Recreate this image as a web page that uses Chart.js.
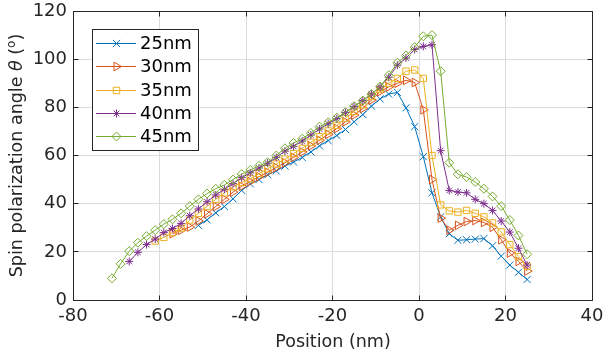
<!DOCTYPE html>
<html>
<head>
<meta charset="utf-8">
<script src="https://cdn.jsdelivr.net/npm/chart.js@4.4.0/dist/chart.umd.min.js"></script>
<style>
  html, body { margin: 0; padding: 0; background: #fff; }
</style>
</head>
<body>
<canvas id="myChart" width="606" height="354"></canvas>
<script>
// positions (nm) and spin polarization angle (deg) for each thickness
const pos25 = [-51, -49, -47, -45, -43, -41, -39, -37, -35, -33, -31, -29, -27, -25, -23, -21, -19, -17, -15, -13,
  -11, -9, -7, -5, -3, -1, 1, 3, 5, 7, 9, 11, 13, 15, 17, 19, 21, 23, 25];
const ang25 = [31, 33.3, 36.2, 38.8, 42, 45.5, 48.2, 50, 52, 53.6, 55.6, 57.3, 59.2, 61.5, 64, 66.2, 68.3, 70.8, 74, 77,
  80.5, 83.5, 85.5, 86.2, 79.8, 72, 59.5, 44.5, 34.5, 27.5, 24.8, 25, 25.3, 25.5, 22.5, 18.2, 14.5, 11.5, 8.5];

const pos30 = [-57, -55, -53, -51, -49, -47, -45, -43, -41, -39, -37, -35, -33, -31, -29, -27, -25, -23, -21, -19,
  -17, -15, -13, -11, -9, -7, -5, -3, -1, 1, 3, 5, 7, 9, 11, 13, 15, 17, 19, 21, 23, 25];
const ang30 = [27.5, 29, 30.3, 32.8, 35.8, 38.8, 41.8, 44.8, 47.2, 49.2, 51.2, 53, 55, 57, 59.2, 61.5, 64, 66.3, 68.8, 71.2,
  74, 76.8, 79.5, 83, 86.5, 88.5, 90, 91.2, 90.3, 79, 50, 34, 29, 31, 32.6, 33, 32.2, 30.2, 25, 19.5, 16, 12];

const pos35 = [-61, -59, -57, -55, -53, -51, -49, -47, -45, -43, -41, -39, -37, -35, -33, -31, -29, -27, -25, -23,
  -21, -19, -17, -15, -13, -11, -9, -7, -5, -3, -1, 1, 3, 5, 7, 9, 11, 13, 15, 17, 19, 21, 23, 25];
const ang35 = [24.5, 26, 28, 29.8, 33.2, 36, 38.8, 41.8, 44.5, 47, 48.8, 50.3, 52.5, 54.5, 56.5, 58.5, 60.8, 63, 65.5, 67.8,
  70.2, 72.5, 75.5, 78.3, 81, 84.5, 87.5, 90, 92, 95, 95.5, 92, 60, 39.5, 37, 36.5, 37.2, 36, 34.5, 32, 28.3, 23, 18, 14];

const pos40 = [-67, -65, -63, -61, -59, -57, -55, -53, -51, -49, -47, -45, -43, -41, -39, -37, -35, -33, -31, -29,
  -27, -25, -23, -21, -19, -17, -15, -13, -11, -9, -7, -5, -3, -1, 1, 3, 5, 7, 9, 11, 13, 15, 17, 19, 21, 23, 25];
const ang40 = [16, 19.8, 23, 25.3, 28, 29.7, 31.8, 35, 37.8, 40.8, 43.6, 46, 48.3, 50.8, 52.8, 54.8, 56.8, 59.2, 61.8, 63.8,
  66, 68.5, 71, 73.2, 75.3, 77.8, 80.3, 82.8, 85.5, 88.5, 92.5, 97.5, 100.5, 104, 105.3, 106, 62, 45.5, 44.8, 44.5,
  41.8, 40, 37.2, 32.8, 28.2, 21.5, 14.5];

const pos45 = [-71, -69, -67, -65, -63, -61, -59, -57, -55, -53, -51, -49, -47, -45, -43, -41, -39, -37, -35, -33,
  -31, -29, -27, -25, -23, -21, -19, -17, -15, -13, -11, -9, -7, -5, -3, -1, 1, 3, 5, 7, 9, 11, 13, 15, 17, 19, 21, 23, 25];
const ang45 = [9, 15, 20.3, 23.8, 26.5, 29, 31.5, 33.5, 36, 39, 41.8, 44.2, 46.2, 47.8, 50, 52.3, 54, 55.7, 57.2, 60,
  63, 65.2, 67, 69.3, 72, 73.8, 75.7, 78, 80.5, 82.8, 85.5, 88.6, 93.3, 98.5, 101.5, 105, 109.5, 110, 95, 57,
  52.2, 51, 49, 46.2, 43, 39, 33.2, 26.8, 19];

const xTicks = [-80, -60, -40, -20, 0, 20, 40];
const yTicks = [0, 20, 40, 60, 80, 100, 120];

const FONT = '"DejaVu Sans", sans-serif';
const AXIS_COLOR = '#262626';

function pts(xs, ys) {
  return xs.map((x, i) => ({ x: x, y: ys[i] }));
}

function series(label, xs, ys, color, style, radius, rot, order) {
  return {
    label: label,
    data: pts(xs, ys),
    borderColor: color,
    backgroundColor: 'rgba(0,0,0,0)',
    pointBackgroundColor: 'rgba(0,0,0,0)',
    pointBorderColor: color,
    borderWidth: 1,
    pointBorderWidth: 1,
    pointStyle: style,
    pointRadius: radius,
    pointRotation: rot,
    tension: 0,
    order: order
  };
}

// marker outline for the legend
function legendMarker(c, style, x, y, r) {
  c.beginPath();
  if (style === 'crossRot') {
    const d = r * 0.72;
    c.moveTo(x - d, y - d); c.lineTo(x + d, y + d);
    c.moveTo(x - d, y + d); c.lineTo(x + d, y - d);
  } else if (style === 'triangle') {
    c.moveTo(x + r, y);
    c.lineTo(x - r / 2, y - r * 0.866);
    c.lineTo(x - r / 2, y + r * 0.866);
    c.closePath();
  } else if (style === 'rect') {
    const h = r * 0.72;
    c.rect(x - h, y - h, 2 * h, 2 * h);
  } else if (style === 'star') {
    const d = r * 0.72;
    c.moveTo(x - r, y); c.lineTo(x + r, y);
    c.moveTo(x, y - r); c.lineTo(x, y + r);
    c.moveTo(x - d, y - d); c.lineTo(x + d, y + d);
    c.moveTo(x - d, y + d); c.lineTo(x + d, y - d);
  } else {
    c.moveTo(x, y - r); c.lineTo(x + r, y);
    c.lineTo(x, y + r); c.lineTo(x - r, y);
    c.closePath();
  }
  c.stroke();
}

// box, inner ticks, legend and axis titles, MATLAB style
const matlabLook = {
  id: 'matlabLook',
  afterDatasetsDraw(chart) {
    const ctx = chart.ctx;
    const a = chart.chartArea;
    const xs = chart.scales.x, ys = chart.scales.y;
    const al = p => Math.round(p - 0.5) + 0.5;
    const L = al(a.left), R = al(a.right), T = al(a.top), B = al(a.bottom);

    ctx.save();
    ctx.strokeStyle = AXIS_COLOR;
    ctx.lineWidth = 1;
    ctx.strokeRect(L, T, R - L, B - T);
    ctx.beginPath();
    xTicks.forEach(v => {
      const p = al(xs.getPixelForValue(v));
      ctx.moveTo(p, B); ctx.lineTo(p, B - 5);
      ctx.moveTo(p, T); ctx.lineTo(p, T + 5);
    });
    yTicks.forEach(v => {
      const p = al(ys.getPixelForValue(v));
      ctx.moveTo(L, p); ctx.lineTo(L + 5, p);
      ctx.moveTo(R, p); ctx.lineTo(R - 5, p);
    });
    ctx.stroke();

    // legend
    const bx = 92.5, by = 29.5, bw = 106, bh = 121;
    ctx.fillStyle = '#fff';
    ctx.fillRect(bx, by, bw, bh);
    ctx.strokeStyle = AXIS_COLOR;
    ctx.strokeRect(bx, by, bw, bh);
    ctx.font = '18px ' + FONT;
    ctx.textBaseline = 'middle';
    ctx.textAlign = 'left';
    chart.data.datasets.forEach((ds, i) => {
      const y = Math.round(43 + i * 23.3) + 0.5;
      ctx.strokeStyle = ds.borderColor;
      ctx.lineWidth = 1;
      ctx.beginPath();
      ctx.moveTo(96, y); ctx.lineTo(136, y);
      ctx.stroke();
      legendMarker(ctx, ds.pointStyle, 116.5, y, ds.pointRadius);
      ctx.fillStyle = '#000';
      ctx.fillText(ds.label, 140, y + 1);
    });

    // x title
    ctx.fillStyle = AXIS_COLOR;
    ctx.textAlign = 'center';
    ctx.font = '17.5px ' + FONT;
    ctx.fillText('Position (nm)', 333, 342);

    // y title with italic theta and superscript o
    const parts = [
      ['Spin polarization angle ', '17.5px ' + FONT, 0],
      ['\u03B8', 'italic 17.5px ' + FONT, 0],
      [' (', '17.5px ' + FONT, 0],
      ['o', '12px ' + FONT, -5],
      [')', '17.5px ' + FONT, 0]
    ];
    let total = 0;
    parts.forEach(p => { ctx.font = p[1]; p.push(ctx.measureText(p[0]).width); total += p[3]; });
    ctx.translate(17, (a.top + a.bottom) / 2);
    ctx.rotate(-Math.PI / 2);
    ctx.textAlign = 'left';
    let cx = -total / 2;
    parts.forEach(p => {
      ctx.font = p[1];
      ctx.fillText(p[0], cx, p[2]);
      cx += p[3];
    });
    ctx.restore();
  }
};

const ctx = document.getElementById('myChart').getContext('2d');
const myChart = new Chart(ctx, {
  type: 'line',
  data: {
    datasets: [
      series('25nm', pos25, ang25, '#0072BD', 'crossRot', 5, 0, 5),
      series('30nm', pos30, ang30, '#D95319', 'triangle', 5, 90, 4),
      series('35nm', pos35, ang35, '#EDB120', 'rect', 4.5, 0, 3),
      series('40nm', pos40, ang40, '#7E2F8E', 'star', 4, 0, 2),
      series('45nm', pos45, ang45, '#77AC30', 'rectRot', 4.5, 0, 1)
    ]
  },
  options: {
    responsive: false,
    animation: false,
    layout: { padding: { left: 0, top: 11, right: 14, bottom: 0 } },
    plugins: { legend: { display: false }, tooltip: { enabled: false } },
    scales: {
      x: {
        type: 'linear',
        min: -80, max: 40,
        afterBuildTicks: s => { s.ticks = xTicks.map(v => ({ value: v })); },
        afterFit: s => { s.height = 54; s.paddingLeft = 0; s.paddingRight = 0; },
        grid: { color: '#dcdcdc', drawTicks: false },
        border: { display: false },
        ticks: { color: AXIS_COLOR, font: { family: FONT, size: 18 }, padding: 6, maxRotation: 0 }
      },
      y: {
        min: 0, max: 120,
        afterBuildTicks: s => { s.ticks = yTicks.map(v => ({ value: v })); },
        afterFit: s => { s.width = 73; s.paddingTop = 0; s.paddingBottom = 0; },
        grid: { color: '#dcdcdc', drawTicks: false },
        border: { display: false },
        ticks: { color: AXIS_COLOR, font: { family: FONT, size: 18 }, padding: 6 }
      }
    }
  },
  plugins: [matlabLook]
});
</script>
</body>
</html>
